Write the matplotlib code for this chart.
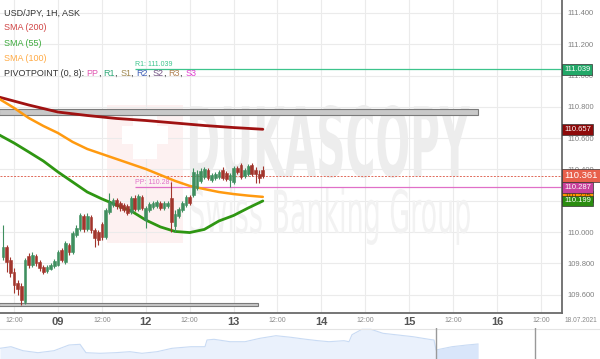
import numpy as np
import matplotlib
matplotlib.use("Agg")
import matplotlib.pyplot as plt
from matplotlib.textpath import TextPath
from matplotlib.patches import PathPatch, Rectangle
from matplotlib.path import Path
from matplotlib.font_manager import FontProperties

plt.rcParams['font.family'] = ['Liberation Sans', 'DejaVu Sans']

# hourly candles, hour 0 = 09.07 00:00 (trading-time axis)
hours = list(range(-15, 57))
opens = [109.841, 109.905, 109.822, 109.745, 109.675, 109.656, 109.553, 109.847, 109.790, 109.847,
         109.809, 109.777, 109.751, 109.764, 109.783, 109.790, 109.886, 109.809, 109.918, 109.873,
         109.981, 110.020, 110.103, 110.020, 110.096, 110.013, 110.001, 110.052, 109.969, 110.128,
         110.173, 110.205, 110.186, 110.173, 110.167, 110.128, 110.218, 110.148, 110.224, 110.077,
         110.141, 110.160, 110.167, 110.186, 110.154, 110.167, 110.218, 110.039, 110.103, 110.141,
         110.173, 110.224, 110.237, 110.282, 110.327, 110.352, 110.397, 110.333, 110.346, 110.352,
         110.397, 110.378, 110.333, 110.320, 110.410, 110.429, 110.358, 110.371, 110.429, 110.397,
         110.371, 110.397]
highs = [110.045, 109.918, 109.841, 109.771, 109.694, 109.675, 109.834, 109.866, 109.873, 109.860,
         109.822, 109.790, 109.790, 109.803, 109.828, 109.886, 109.898, 109.943, 109.930, 110.007,
         110.045, 110.122, 110.116, 110.122, 110.109, 110.026, 110.013, 110.065, 110.154, 110.250,
         110.218, 110.218, 110.199, 110.186, 110.180, 110.231, 110.237, 110.243, 110.237, 110.167,
         110.192, 110.199, 110.205, 110.199, 110.199, 110.199, 110.320, 110.141, 110.160, 110.199,
         110.237, 110.237, 110.410, 110.397, 110.410, 110.416, 110.410, 110.378, 110.384, 110.397,
         110.416, 110.390, 110.378, 110.422, 110.422, 110.442, 110.410, 110.435, 110.442, 110.416,
         110.397, 110.422]
lows = [109.822, 109.745, 109.713, 109.611, 109.598, 109.534, 109.541, 109.771, 109.777, 109.783,
        109.751, 109.732, 109.739, 109.758, 109.771, 109.783, 109.809, 109.796, 109.854, 109.860,
        109.969, 110.007, 110.001, 110.007, 109.994, 109.905, 109.918, 109.950, 109.956, 110.116,
        110.160, 110.148, 110.135, 110.128, 110.109, 110.116, 110.135, 110.135, 110.141, 110.026,
        110.128, 110.148, 110.154, 110.141, 110.141, 110.154, 110.001, 110.001, 110.090, 110.128,
        110.160, 110.173, 110.224, 110.269, 110.314, 110.339, 110.333, 110.320, 110.333, 110.339,
        110.333, 110.327, 110.288, 110.307, 110.371, 110.339, 110.346, 110.358, 110.358, 110.314,
        110.314, 110.346]
closes = [109.905, 109.809, 109.739, 109.662, 109.636, 109.566, 109.822, 109.790, 109.854, 109.803,
          109.771, 109.745, 109.777, 109.790, 109.815, 109.873, 109.822, 109.930, 109.873, 109.994,
          110.026, 110.109, 110.020, 110.103, 110.013, 109.962, 109.950, 109.969, 110.141, 110.192,
          110.205, 110.167, 110.154, 110.141, 110.122, 110.218, 110.148, 110.231, 110.154, 110.154,
          110.180, 110.186, 110.192, 110.154, 110.186, 110.186, 110.065, 110.116, 110.148, 110.186,
          110.224, 110.186, 110.384, 110.371, 110.390, 110.403, 110.346, 110.365, 110.371, 110.384,
          110.346, 110.339, 110.365, 110.410, 110.384, 110.352, 110.397, 110.422, 110.371, 110.371,
          110.346, 110.361]

sma_hours = [-16, -12, -8, -4, 0, 4, 8, 12, 16, 20, 24, 28, 32, 36, 40, 44, 48, 52, 56]
sma100 = [110.850, 110.793, 110.729, 110.678, 110.633, 110.576, 110.531, 110.499, 110.467, 110.435,
          110.403, 110.365, 110.327, 110.295, 110.275, 110.256, 110.243, 110.233, 110.225]
sma55 = [110.620, 110.569, 110.512, 110.454, 110.384, 110.320, 110.256, 110.212, 110.173, 110.135,
         110.077, 110.033, 110.004, 109.997, 110.017, 110.071, 110.106, 110.154, 110.199]
sma200_hours = [-16, -8, 0, 8, 16, 24, 32, 40, 48, 56]
sma200 = [110.862, 110.812, 110.767, 110.745, 110.726, 110.713, 110.697, 110.681, 110.668, 110.657]

pp = 110.287
r1 = 111.039
last = 110.361
zone_top = (110.748, 110.787)
zone_bottom = (109.528, 109.549)

# navigator strip (own time scale)
nav_x = [0, 11, 23, 38, 54, 69, 80, 86, 100, 115, 130, 142, 157, 172, 191, 205, 207, 214, 230, 245,
         260, 276, 291, 306, 318, 329, 344, 349, 352, 362, 371, 383, 398, 413, 429, 434, 436, 452, 467, 478]
nav_y = [10.7, 12.3, 8.3, 6.3, 8.3, 14, 14.7, 6.3, 5.7, 6.3, 7.3, 5.7, 7.3, 10.7, 12.3, 12.3, 19, 19.7,
         17.3, 17.3, 20.7, 23.3, 21.7, 19.7, 18.3, 17.3, 18.3, 17.3, 24.3, 29.7, 29.7, 25.7, 24, 22.3,
         19.7, 19, 9, 12.3, 14, 15]

tick_hours = [-12, 0, 12, 24, 36, 48, 60, 72, 84, 96, 108, 120, 132]
tick_labels = ['12:00', '09', '12:00', '12', '12:00', '13', '12:00', '14', '12:00', '15', '12:00', '16', '12:00']
price_ticks = [109.6, 109.8, 110.0, 110.2, 110.4, 110.6, 110.8, 111.0, 111.2, 111.4]

fig = plt.figure(figsize=(6, 3.59), dpi=100)
ax = fig.add_axes([0, 46 / 359, 562 / 600, 313 / 359])
ax.set_xlim(-15.86, 137.8)
ax.set_ylim(109.483, 111.483)

ax.set_xticks(tick_hours)
ax.set_xticklabels(tick_labels)
for lab in ax.get_xticklabels():
    if ':' in lab.get_text():
        lab.set_fontsize(5)
        lab.set_color('#8a8a8a')
    else:
        lab.set_fontsize(8)
        lab.set_color('#555555')
        lab.set_fontweight('bold')
ax.tick_params(axis='x', length=0, pad=3)
ax.yaxis.tick_right()
ax.set_yticks(price_ticks)
ax.set_yticklabels(['%.3f' % p for p in price_ticks])
ax.tick_params(axis='y', length=0, pad=4, labelsize=5.5, labelcolor='#808080')
ax.grid(True, color='#ebebeb', linewidth=0.8, zorder=0)
ax.set_axisbelow(True)
for s in ['left', 'top']:
    ax.spines[s].set_visible(False)
for s in ['right', 'bottom']:
    ax.spines[s].set_color('#6a6a6a')
    ax.spines[s].set_linewidth(1.3)


def watermark(s, x0, x1, y0, y1, color, weight):
    tp = TextPath((0, 0), s, size=1, prop=FontProperties(family='DejaVu Sans', weight=weight))
    bb = tp.get_extents()
    v = tp.vertices.copy()
    v[:, 0] = x0 + (v[:, 0] - bb.x0) / bb.width * (x1 - x0)
    v[:, 1] = y0 + (v[:, 1] - bb.y0) / bb.height * (y1 - y0)
    ax.add_patch(PathPatch(Path(v, tp.codes), fc=color, ec='none', zorder=0.6))


# watermark logo + text
ax.add_patch(Rectangle((13.4, 109.930), 20.8, 0.882, fc='#fdf1f1', ec='none', zorder=0.5))
ax.add_patch(Rectangle((20.5, 110.47), 6.5, 0.30, fc='white', ec='none', zorder=0.55))
ax.add_patch(Rectangle((17.5, 110.56), 12.5, 0.12, fc='white', ec='none', zorder=0.55))
watermark('DUKASCOPY', 36.1, 112.6, 110.346, 110.812, '#ededed', 'bold')
watermark('Swiss Banking Group', 36.1, 112.6, 109.918, 110.282, '#f2f2f2', 'normal')

# support / resistance zones
ax.add_patch(Rectangle((-16, zone_top[0]), 130.8, zone_top[1] - zone_top[0],
                       fc='#c8c8c8', ec='#7a7a7a', lw=0.8, zorder=2))
ax.add_patch(Rectangle((-16, zone_bottom[0]), 70.6, zone_bottom[1] - zone_bottom[0],
                       fc='#c8c8c8', ec='#7a7a7a', lw=0.8, zorder=2))

# pivot lines
ax.hlines(r1, 21, 140, color='#3cc48c', lw=0.9, zorder=2)
ax.hlines(pp, 21, 140, color='#e070c8', lw=0.9, zorder=2)
ax.text(21, r1 + 0.008, 'R1: 111.039', color='#3cc48c', fontsize=5, va='bottom', ha='left')
ax.text(21, pp + 0.008, 'PP: 110.287', color='#e070c8', fontsize=5, va='bottom', ha='left')
ax.axhline(last, color='#e06a5a', lw=0.7, ls=(0, (2, 1.5)), zorder=2)

# SMAs
ax.plot(sma200_hours, sma200, color='#a01212', lw=2.0, zorder=3, solid_capstyle='round')
ax.plot(sma_hours, sma100, color='#ff9a10', lw=1.8, zorder=3, solid_capstyle='round')
ax.plot(sma_hours, sma55, color='#2e9612', lw=2.0, zorder=3, solid_capstyle='round')

# candles
o = np.array(opens)
c = np.array(closes)
up = c >= o
col = np.where(up, '#3f8f5f', '#a2352c')
ax.vlines(hours, lows, highs, colors=col, lw=0.8, zorder=4)
ax.bar(hours, np.maximum(np.abs(c - o), 0.004), bottom=np.minimum(o, c), width=0.74,
       color=col, edgecolor=col, lw=0.4, zorder=5)

# right price boxes
yt = ax.get_yaxis_transform()
def price_box(val, txt, fc, tc='white', fs=5.5):
    ax.text(1.004, val, txt, transform=yt, ha='left', va='center', fontsize=fs, color=tc,
            clip_on=False, zorder=10,
            bbox=dict(boxstyle='square,pad=0.25', fc=fc, ec='#333333', lw=0.5))

price_box(r1, '111.039', '#22a868')
price_box(110.657, '110.657', '#8e0a0a')
price_box(110.225, '110.225', '#ff9900', tc='#663300')
price_box(pp, '110.287', '#c8409c')
price_box(110.199, '110.199', '#2a8c10')
price_box(last, '110.361', '#e8604c', fs=6.8)

# legend text top-left
ax.text(0.007, 0.958, 'USD/JPY, 1H, ASK', transform=ax.transAxes, fontsize=6.5, color='#333333', va='center')
ax.text(0.007, 0.912, 'SMA (200)', transform=ax.transAxes, fontsize=6.5, color='#d04444', va='center')
ax.text(0.007, 0.862, 'SMA (55)', transform=ax.transAxes, fontsize=6.5, color='#3caa3c', va='center')
ax.text(0.007, 0.813, 'SMA (100)', transform=ax.transAxes, fontsize=6.5, color='#ffaa44', va='center')
parts = [('PIVOTPOINT (0, 8): ', '#333333'), ('PP', '#e055b0'), (', ', '#333333'), ('R1', '#30a878'),
         (', ', '#333333'), ('S1', '#a08850'), (', ', '#333333'), ('R2', '#4060b8'),
         (', ', '#333333'), ('S2', '#705080'), (', ', '#333333'), ('R3', '#b08050'),
         (', ', '#333333'), ('S3', '#e040d0')]
prev = ax.text(0.007, 0.765, parts[0][0], transform=ax.transAxes, fontsize=6.5, color=parts[0][1], va='center')
for txt, cc in parts[1:]:
    prev = ax.annotate(txt, xy=(1, 0), xycoords=prev, fontsize=6.5, color=cc, va='bottom', ha='left')

fig.text(597 / 600, 1 - 321 / 359, '18.07.2021', fontsize=4.8, color='#8a8a8a', ha='right', va='center')

# navigator
nav = fig.add_axes([0, 0, 1, 31 / 359])
nav.set_xlim(0, 600)
nav.set_ylim(0, 31)
nav.axis('off')
nx = np.array(nav_x, dtype=float)
ny = np.array(nav_y)
nav.fill_between(nx, 0, ny, color='#eaf1fc', lw=0)
sel = nx >= 436
nav.fill_between(nx[sel], 0, ny[sel], color='#d9e6fa', lw=0)
nav.plot(nx, ny, color='#c9dbf4', lw=0.8)
nav.axhline(30.5, color='#e4e4e4', lw=0.8)
nav.axvline(436, color='#999999', lw=1.0)
nav.axvline(535, color='#999999', lw=1.0)

fig.savefig('out.png', dpi=100)
